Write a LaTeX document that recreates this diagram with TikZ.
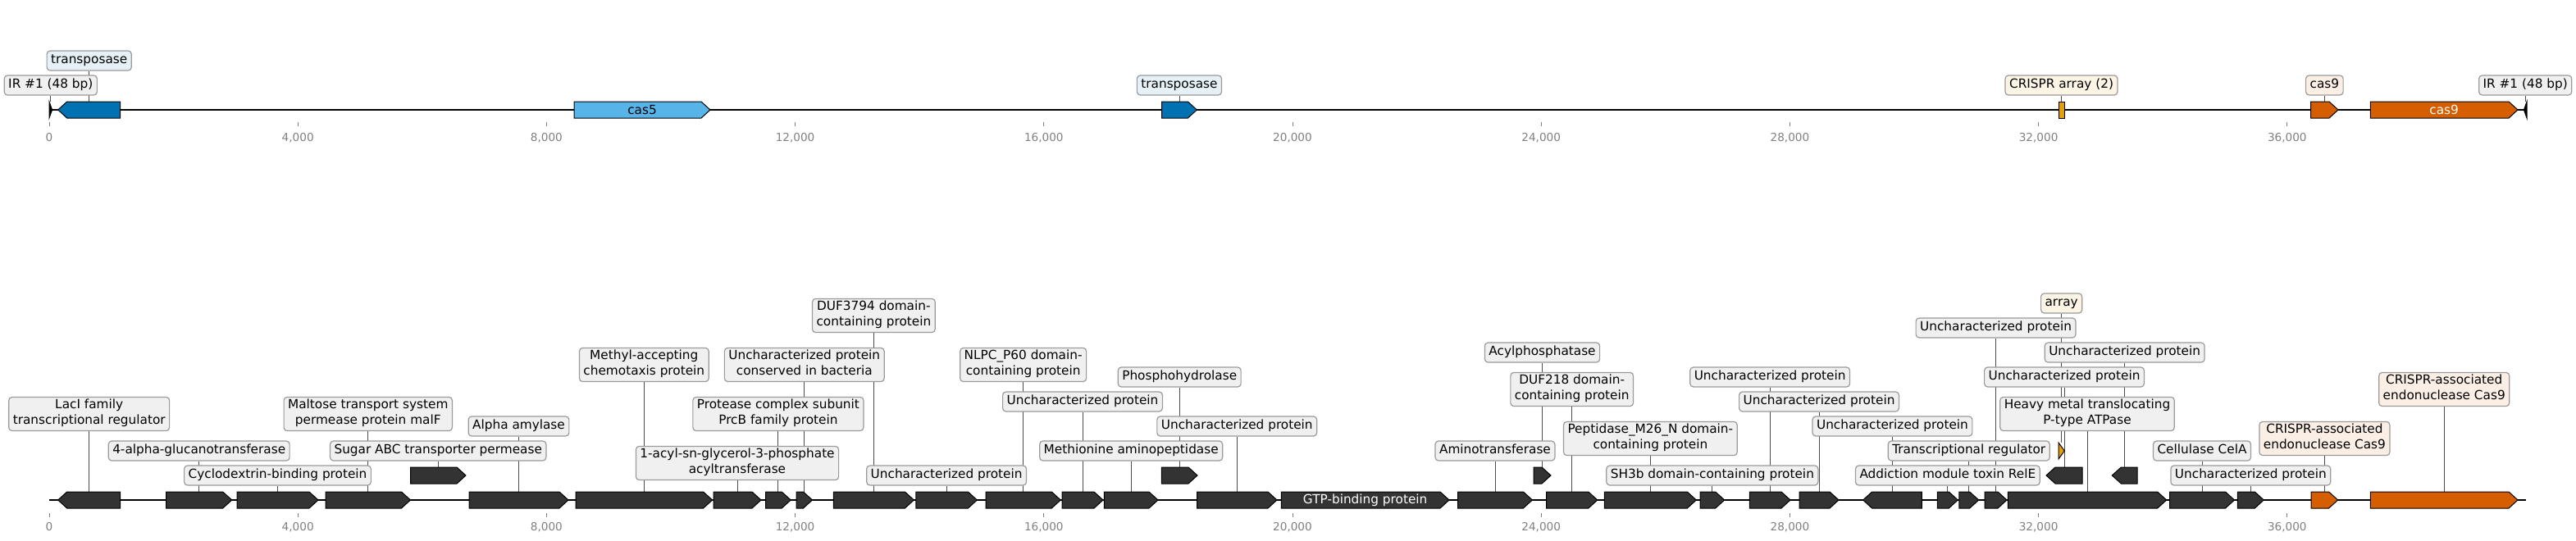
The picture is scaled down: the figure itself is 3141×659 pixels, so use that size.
\documentclass[tikz,border=0pt]{standalone}
\usepackage{fontspec}
\setmainfont{DejaVu Sans}
\usepackage{tikz}
\definecolor{dkgene}{HTML}{333333}
\definecolor{tnpblue}{HTML}{0072B2}
\definecolor{casblue}{HTML}{56B4E9}
\definecolor{casorange}{HTML}{D55E00}
\definecolor{crisprorange}{HTML}{E69F00}
\definecolor{lblgrey}{HTML}{F0F0F0}
\definecolor{lblline}{HTML}{9A9A9A}
\definecolor{tickgrey}{HTML}{808080}
\pgfdeclarelayer{bg}
\pgfsetlayers{bg,main}
% forward / reverse gene arrows: [text opts]{name}{start}{end}{y}{fill}{text}
\newcommand{\fwdgene}[7][]{%
  \pgfmathsetmacro{\gtip}{max(#3,#4-11)}%
  \filldraw[gene,fill=#6] (#3,#5-10) -- (\gtip,#5-10) -- (#4,#5) -- (\gtip,#5+10) -- (#3,#5+10) -- cycle;
  \node[genetxt,minimum width={#4-#3},#1] (#2) at ({(#3+#4)/2},#5) {#7};}
\newcommand{\revgene}[7][]{%
  \pgfmathsetmacro{\gtip}{min(#4,#3+11)}%
  \filldraw[gene,fill=#6] (#4,#5-10) -- (\gtip,#5-10) -- (#3,#5) -- (\gtip,#5+10) -- (#4,#5+10) -- cycle;
  \node[genetxt,minimum width={#4-#3},#1] (#2) at ({(#3+#4)/2},#5) {#7};}

\begin{document}
\begin{tikzpicture}[x=1pt, y=-1pt]
        \tikzset{
           gene/.style={draw=black, line width=1pt},
           genetxt/.style={
                        inner sep=0pt,
                        minimum height=20pt,
                        font=\fontsize{15.3}{18.4}\selectfont,
                        text=black
                       },
           lbl/.style={
                        rectangle,
                        rounded corners=4pt,
                        draw=lblline,
                        line width=1.2pt,
                        fill=lblgrey,
                        text=black,
                        align=center,
                        inner xsep=5pt,
                        inner ysep=2.8pt,
                        font=\fontsize{15.3}{18.4}\selectfont,
                        execute at begin node=\strut,
                        execute at end node=\strut
                       },
           leader/.style={color=black!70, line width=0.9pt},
           axis/.style={draw=black, line width=2.3pt},
           tick/.style={draw=tickgrey, line width=0.9pt},
           ticklbl/.style={text=tickgrey, inner sep=0pt, text height=10pt, text depth=0pt,
                           font=\fontsize{13.6}{16}\selectfont}
                 };
        \useasboundingbox (0,0) rectangle (3141,659);
    %--------------------
    % top track
        \fwdgene{tIRa}{60}{63.6}{134}{black}{}
        \revgene{tTnpA}{70.7}{146.7}{134}{tnpblue}{}
        \fwdgene{tCas5}{700}{866}{134}{casblue}{cas5}
        \fwdgene{tTnpB}{1416.5}{1459.4}{134}{tnpblue}{}
        \filldraw[gene,fill=crisprorange] (2510,124) rectangle (2517,144);
        \node[genetxt,minimum width=7pt] (tArr) at (2513.5,134) {};
        \fwdgene{tCas9a}{2817.7}{2851}{134}{casorange}{}
        \fwdgene[text=white]{tCas9b}{2890.3}{3070}{134}{casorange}{cas9}
        \revgene{tIRb}{3077.4}{3081}{134}{black}{}

        \node[lbl]      (ltIRa)  at (tIRa |- 0,104)   {IR \#1 (48 bp)};
        \node[lbl,fill=tnpblue!10!white] (ltTnpA) at (tTnpA |- 0,74)  {transposase};
        \node[lbl,fill=tnpblue!10!white] (ltTnpB) at (tTnpB |- 0,104) {transposase};
        \node[lbl,fill=crisprorange!10!white] (ltArr) at (tArr |- 0,104) {CRISPR array (2)};
        \node[lbl,fill=casorange!10!white] (ltCas9) at (tCas9a |- 0,104) {cas9};
        \node[lbl]      (ltIRb)  at (tIRb |- 0,104)   {IR \#1 (48 bp)};

        \foreach \k/\t in {0/0,1/{4,000},2/{8,000},3/{12,000},4/{16,000},5/{20,000},6/{24,000},7/{28,000},8/{32,000},9/{36,000}}{
            \draw[tick] ({60+303.2*\k},149) -- ({60+303.2*\k},153.5);
            \node[ticklbl] (tk\k) at ({60+303.2*\k},167) {\t};
            \draw[tick] ({60+303.2*\k},626) -- ({60+303.2*\k},630.5);
            \node[ticklbl] (bk\k) at ({60+303.2*\k},642) {\t};
        }
    %--------------------
    % bottom track
        \revgene{gA}{70.7}{146.7}{610}{dkgene}{}
        \fwdgene{gB}{202.7}{282.7}{610}{dkgene}{}
        \fwdgene{gC}{289}{388}{610}{dkgene}{}
        \fwdgene{gD}{397}{500.5}{610}{dkgene}{}
        \fwdgene{gE}{500.5}{568}{580}{dkgene}{}
        \fwdgene{gF}{572}{693}{610}{dkgene}{}
        \fwdgene{gG}{702}{868.6}{610}{dkgene}{}
        \fwdgene{gH}{870}{928}{610}{dkgene}{}
        \fwdgene{gI}{933.6}{964.2}{610}{dkgene}{}
        \fwdgene{gJ}{971}{990.5}{610}{dkgene}{}
        \fwdgene{gK}{1016.4}{1114.4}{610}{dkgene}{}
        \fwdgene{gL}{1116.8}{1191.4}{610}{dkgene}{}
        \fwdgene{gM}{1202}{1293.3}{610}{dkgene}{}
        \fwdgene{gN}{1295}{1345}{610}{dkgene}{}
        \fwdgene{gO}{1346.4}{1412}{610}{dkgene}{}
        \fwdgene{gP}{1416.4}{1460}{580}{dkgene}{}
        \fwdgene{gQ}{1459.5}{1557}{610}{dkgene}{}
        \fwdgene[text=white]{gR}{1562.3}{1767}{610}{dkgene}{GTP-binding protein}
        \fwdgene{gS}{1777.5}{1868.4}{610}{dkgene}{}
        \fwdgene{gT}{1870}{1891}{580}{dkgene}{}
        \fwdgene{gU}{1885.6}{1947.8}{610}{dkgene}{}
        \fwdgene{gV}{1956.4}{2068.3}{610}{dkgene}{}
        \fwdgene{gW}{2073}{2102.7}{610}{dkgene}{}
        \fwdgene{gX}{2133.3}{2183}{610}{dkgene}{}
        \fwdgene{gY}{2194}{2242}{610}{dkgene}{}
        \revgene{gZ}{2271.6}{2343.3}{610}{dkgene}{}
        \fwdgene{gAA}{2362.4}{2387.3}{610}{dkgene}{}
        \fwdgene{gAB}{2388.8}{2412.7}{610}{dkgene}{}
        \fwdgene{gAC}{2420}{2447}{610}{dkgene}{}
        \fwdgene{gArr}{2510}{2517.3}{550}{crisprorange}{}
        \revgene{gAD}{2495}{2539}{580}{dkgene}{}
        \fwdgene{gAE}{2448.3}{2641.7}{610}{dkgene}{}
        \revgene{gAF}{2575.3}{2606}{580}{dkgene}{}
        \fwdgene{gAG}{2645.5}{2724.5}{610}{dkgene}{}
        \fwdgene{gAH}{2728.4}{2760.3}{610}{dkgene}{}
        \fwdgene{gAI}{2818.2}{2850.6}{610}{casorange}{}
        \fwdgene{gAJ}{2890.4}{3070}{610}{casorange}{}

        \node[lbl] (lA)  at (gA |- 0,505)  {LacI family\\transcriptional regulator};
        \node[lbl] (lB)  at (gB |- 0,550)  {4-alpha-glucanotransferase};
        \node[lbl] (lC)  at (gC |- 0,580)  {Cyclodextrin-binding protein};
        \node[lbl] (lD)  at (gD |- 0,505)  {Maltose transport system\\permease protein malF};
        \node[lbl] (lE)  at (gE |- 0,550)  {Sugar ABC transporter permease};
        \node[lbl] (lF)  at (gF |- 0,520)  {Alpha amylase};
        \node[lbl] (lG)  at (gG |- 0,445)  {Methyl-accepting\\chemotaxis protein};
        \node[lbl] (lH)  at (gH |- 0,565)  {1-acyl-sn-glycerol-3-phosphate\\acyltransferase};
        \node[lbl] (lI)  at (gI |- 0,505)  {Protease complex subunit\\PrcB family protein};
        \node[lbl] (lJ)  at (gJ |- 0,445)  {Uncharacterized protein\\conserved in bacteria};
        \node[lbl] (lK)  at (gK |- 0,385)  {DUF3794 domain-\\containing protein};
        \node[lbl] (lL)  at (gL |- 0,580)  {Uncharacterized protein};
        \node[lbl] (lM)  at (gM |- 0,445)  {NLPC\_P60 domain-\\containing protein};
        \node[lbl] (lN)  at (gN |- 0,490)  {Uncharacterized protein};
        \node[lbl] (lO)  at (gO |- 0,550)  {Methionine aminopeptidase};
        \node[lbl] (lP)  at (gP |- 0,460)  {Phosphohydrolase};
        \node[lbl] (lQ)  at (gQ |- 0,520)  {Uncharacterized protein};
        \node[lbl] (lS)  at (gS |- 0,550)  {Aminotransferase};
        \node[lbl] (lT)  at (gT |- 0,430)  {Acylphosphatase};
        \node[lbl] (lU)  at (gU |- 0,475)  {DUF218 domain-\\containing protein};
        \node[lbl] (lV)  at (gV |- 0,535)  {Peptidase\_M26\_N domain-\\containing protein};
        \node[lbl] (lW)  at (gW |- 0,580)  {SH3b domain-containing protein};
        \node[lbl] (lX)  at (gX |- 0,460)  {Uncharacterized protein};
        \node[lbl] (lY)  at (gY |- 0,490)  {Uncharacterized protein};
        \node[lbl] (lZ)  at (gZ |- 0,520)  {Uncharacterized protein};
        \node[lbl] (lAA) at (gAA |- 0,580) {Addiction module toxin RelE};
        \node[lbl] (lAB) at (gAB |- 0,550) {Transcriptional regulator};
        \node[lbl] (lAC) at (gAC |- 0,400) {Uncharacterized protein};
        \node[lbl,fill=crisprorange!10!white] (lArr) at (gArr |- 0,370) {array};
        \node[lbl] (lAD) at (gAD |- 0,460) {Uncharacterized protein};
        \node[lbl] (lAE) at (gAE |- 0,505) {Heavy metal translocating\\P-type ATPase};
        \node[lbl] (lAF) at (gAF |- 0,430) {Uncharacterized protein};
        \node[lbl] (lAG) at (gAG |- 0,550) {Cellulase CelA};
        \node[lbl] (lAH) at (gAH |- 0,580) {Uncharacterized protein};
        \node[lbl,fill=casorange!10!white] (lAI) at (gAI |- 0,535) {CRISPR-associated\\endonuclease Cas9};
        \node[lbl,fill=casorange!10!white] (lAJ) at (gAJ |- 0,475) {CRISPR-associated\\endonuclease Cas9};
    %--------------------
        \begin{pgfonlayer}{bg}
        \draw[axis] (60,134) -- (3080,134);
        \draw[axis] (60,610) -- (3080,610);
        \path[leader] (tIRa) edge (ltIRa)
              (tTnpA)  edge (ltTnpA)
              (tTnpB)  edge (ltTnpB)
              (tArr)   edge (ltArr)
              (tCas9a) edge (ltCas9)
              (tIRb)   edge (ltIRb)
              (gA) edge (lA)   (gB) edge (lB)   (gC) edge (lC)
              (gD) edge (lD)   (gE) edge (lE)   (gF) edge (lF)
              (gG) edge (lG)   (gH) edge (lH)   (gI) edge (lI)
              (gJ) edge (lJ)   (gK) edge (lK)   (gL) edge (lL)
              (gM) edge (lM)   (gN) edge (lN)   (gO) edge (lO)
              (gP) edge (lP)   (gQ) edge (lQ)   (gS) edge (lS)
              (gT) edge (lT)   (gU) edge (lU)   (gV) edge (lV)
              (gW) edge (lW)   (gX) edge (lX)   (gY) edge (lY)
              (gZ) edge (lZ)   (gAA) edge (lAA) (gAB) edge (lAB)
              (gAC) edge (lAC) (gArr) edge (lArr) (gAD) edge (lAD)
              (gAE) edge (lAE) (gAF) edge (lAF) (gAG) edge (lAG)
              (gAH) edge (lAH) (gAI) edge (lAI) (gAJ) edge (lAJ)
        ;
        \end{pgfonlayer}
    \end{tikzpicture}
\end{document}
